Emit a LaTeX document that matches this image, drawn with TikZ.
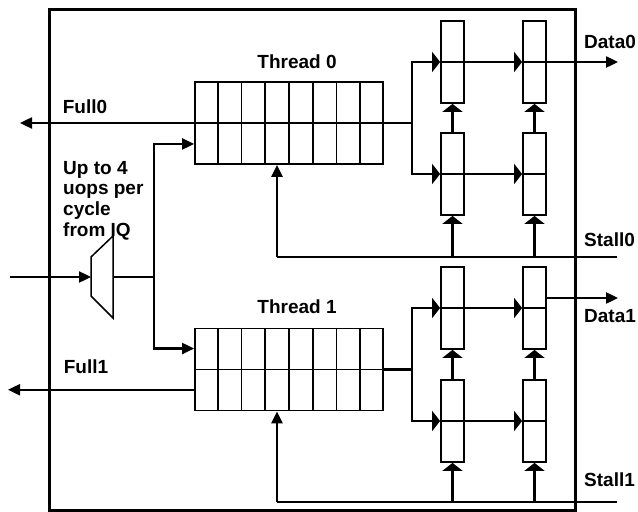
\documentclass[tikz,border=0pt]{standalone}
\usepackage{fontspec}
\setmainfont{Liberation Sans}
\usetikzlibrary{arrows.meta,positioning,calc}
\tikzset{
  >={Triangle[length=12bp,width=11bp]},
  flat/.style={-{Triangle[length=8bp,width=20bp]}},
  lbl/.style={font=\fontsize{19bp}{20.7bp}\selectfont\bfseries,inner sep=0pt},
  queue/.style={draw,line width=1.8bp,minimum width=188bp,minimum height=82bp,inner sep=0pt},
  stage/.style={draw,line width=1.8bp,minimum width=23bp,minimum height=82bp,inner sep=0pt},
  wire/.style={line width=2.4bp},
  frame/.style={line width=3bp},
}
\begin{document}
\begin{tikzpicture}[x=1bp,y=-1bp]
  \useasboundingbox (0,0) rectangle (638,512);
  \draw[frame] (49,10) rectangle (575,510);
  % instruction queues
  \node[queue] (q0) at (289,123) {};
  \node[queue] (q1) at (289,369.5) {};
  \foreach \q in {q0,q1}{
    \draw[line width=1.8bp] (\q.west) -- (\q.east);
    \foreach \i in {1,...,7}
      \draw[line width=1.8bp] ($(\q.north west)!\i/8!(\q.north east)$) -- ($(\q.south west)!\i/8!(\q.south east)$);
  }
  \node[lbl] (th0) at (297,62) {Thread 0};
  \node[lbl] (th1) at (297,307) {Thread 1};
  % pipeline stages
  \foreach \t/\y/\z in {0/62/174,1/308/421}{
    \node[stage] (ua\t) at (452.5,\y) {};
    \node[stage] (ub\t) at (534.5,\y) {};
    \node[stage] (la\t) at (452.5,\z) {};
    \node[stage] (lb\t) at (534.5,\z) {};
    \foreach \s in {ua,ub,la,lb}
      \draw[line width=1.8bp] (\s\t.west) -- (\s\t.east);
    \draw[wire] (q\t.east) -- ++(28,0) coordinate (sp\t);
    \draw[wire,flat] (sp\t) |- (ua\t.west);
    \draw[wire,flat] (sp\t) |- (la\t.west);
    \draw[wire,flat] (ua\t.east) -- (ub\t.west);
    \draw[wire,flat] (la\t.east) -- (lb\t.west);
    \draw[wire,flat] (la\t.north) -- (ua\t.south);
    \draw[wire,flat] (lb\t.north) -- (ub\t.south);
  }
  % mux
  \draw[line width=1.5bp] (91,257) -- (113,236) -- (113,318) -- (91,296) -- cycle;
  \coordinate (muxin) at (91,277);
  \coordinate (muxout) at (113,277);
  \coordinate (iq) at (10,277);
  \coordinate (br) at (154,277);
  \coordinate (q0in) at ($(q0.west)!.5!(q0.south west)$);
  \coordinate (q1in) at ($(q1.west)!.5!(q1.north west)$);
  \draw[wire,->] (iq) -- (muxin);
  \draw[wire] (muxout) -- (br);
  \draw[wire,->] (br) |- (q0in);
  \draw[wire,->] (br) |- (q1in);
  \node[lbl,anchor=north west,align=left] (upto) at (63,161) {Up to 4\\uops per\\cycle\\from IQ};
  % full signals
  \coordinate (f0) at (20,123);
  \coordinate (f1) at (8,389.75);
  \draw[wire,->] (q0.west) -- (f0);
  \draw[wire,->] (q1.west |- f1) -- (f1);
  \node[lbl] (full0) at (85,107) {Full0};
  \node[lbl] (full1) at (86,367) {Full1};
  % data out
  \coordinate (d0) at (618,62);
  \coordinate (d1) at (618,298);
  \draw[wire,->] (ub0.east) -- (d0);
  \draw[wire,->] (ub1.east |- d1) -- (d1);
  \node[lbl,anchor=west] (data0) at (584,42) {Data0};
  \node[lbl,anchor=west] (data1) at (584,316) {Data1};
  % stall lines
  \foreach \t/\y in {0/257,1/502}{
    \coordinate (st\t) at (617,\y);
    \coordinate (sb\t) at (277,\y);
    \draw[wire] (st\t) -- (sb\t);
    \draw[wire,->] (sb\t) -- (sb\t |- q\t.south);
    \draw[wire,flat] (la\t.south |- st\t) -- (la\t.south);
    \draw[wire,flat] (lb\t.south |- st\t) -- (lb\t.south);
  }
  \node[lbl,anchor=west] (stall0) at (584,240) {Stall0};
  \node[lbl,anchor=west] (stall1) at (584,480) {Stall1};
\end{tikzpicture}
\end{document}
